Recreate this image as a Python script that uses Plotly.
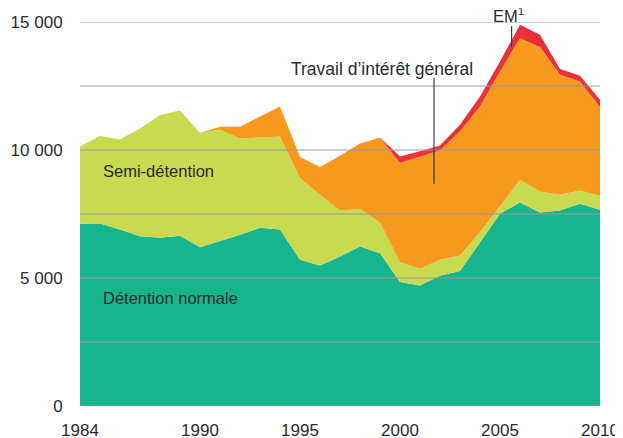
import plotly.graph_objects as go

years = list(range(1984, 2011))

detention_normale = [7120, 7130, 6890, 6630, 6570, 6650, 6200, 6430, 6690, 6960, 6890, 5710, 5490,
                     5840, 6230, 5970, 4840, 4710, 5090, 5270, 6390, 7510, 7950, 7560, 7640, 7900, 7670]
semi_detention = [3020, 3420, 3520, 4210, 4800, 4890, 4460, 4360, 3760, 3530, 3640, 3190, 2760,
                  1800, 1470, 1200, 780, 650, 620, 610, 410, 290, 890, 820, 610, 520, 540]
travail_interet_general = [0, 0, 0, 0, 0, 0, 0, 120, 460, 800, 1170, 830, 1090,
                           2140, 2550, 3320, 3870, 4390, 4270, 4850, 4900, 5270, 5530, 5640, 4690, 4260, 3470]
em = [0, 0, 0, 0, 0, 0, 0, 0, 0, 0, 0, 0, 0,
      0, 0, 0, 260, 200, 200, 260, 390, 390, 520, 480, 220, 220, 280]

series_names = ["Détention normale", "Semi-détention", "Travail d'intérêt général", "EM"]
series_colors = ["#17b58e", "#c8da4f", "#f7981f", "#ec3037"]

x_tick_vals = [1984, 1990, 1995, 2000, 2005, 2010]
y_tick_vals = [0, 5000, 10000, 15000]
y_tick_text = ["0", "5 000", "10 000", "15 000"]
grid_vals = [0, 2500, 5000, 7500, 10000, 12500, 15000]

FONT = "Liberation Sans, Arial, sans-serif"
TXT = "#2b2b2b"

fig = go.Figure()
for name, vals, col in zip(series_names, [detention_normale, semi_detention, travail_interet_general, em], series_colors):
    fig.add_trace(go.Scatter(
        x=years, y=vals, name=name, mode="lines", stackgroup="one",
        line=dict(width=0, color=col), fillcolor=col, hoverinfo="x+y+name"))

for g in grid_vals:
    fig.add_shape(type="line", xref="x", yref="y", x0=years[0], x1=years[-1], y0=g, y1=g,
                  line=dict(color="#9a9a9a", width=1), layer="above")

# leader lines
fig.add_shape(type="line", xref="x", yref="y", x0=2001.7, x1=2001.7, y0=8680, y1=12820,
              line=dict(color="#3a3a3a", width=1.2), layer="above")
fig.add_shape(type="line", xref="x", yref="y", x0=2005.58, x1=2005.58, y0=14020, y1=14830,
              line=dict(color="#3a3a3a", width=1.2), layer="above")

ann = [
    dict(x=1985.05, y=9190, text="Semi-détention", xanchor="left", size=16.5, ys=0),
    dict(x=1985.05, y=4210, text="Détention normale", xanchor="left", size=16.5, ys=0),
    dict(x=1999.1, y=13170, text="Travail d’intérêt général", xanchor="center", size=17.5, ys=0),
    dict(x=2005.4, y=15000, text="EM<sup>1</sup>", xanchor="center", size=16.5, ys=7),
]
for a in ann:
    fig.add_annotation(x=a["x"], y=a["y"], xref="x", yref="y", text=a["text"], showarrow=False,
                       xanchor=a["xanchor"], yanchor="middle", yshift=a["ys"],
                       font=dict(family=FONT, size=a["size"], color=TXT))

# the page places the figure 8px from the top-left corner, so the figure is 8px smaller
fig.update_layout(
    width=615, height=430,
    margin=dict(l=72, r=23, t=14, b=32, autoexpand=False),
    paper_bgcolor="white", plot_bgcolor="white",
    showlegend=False,
    font=dict(family=FONT, size=17, color=TXT),
)
fig.update_xaxes(range=[1984, 2010], tickvals=x_tick_vals, showgrid=False, zeroline=False,
                 showline=False, ticks="outside", ticklen=9, tickcolor="rgba(0,0,0,0)",
                 automargin=False,
                 tickfont=dict(family=FONT, size=17, color=TXT))
fig.update_yaxes(range=[0, 15000], tickvals=y_tick_vals, ticktext=y_tick_text, showgrid=False,
                 zeroline=False, showline=False, ticks="outside", ticklen=13, automargin=False,
                 tickcolor="rgba(0,0,0,0)", tickfont=dict(family=FONT, size=17, color=TXT))

fig.write_html("out.html")
